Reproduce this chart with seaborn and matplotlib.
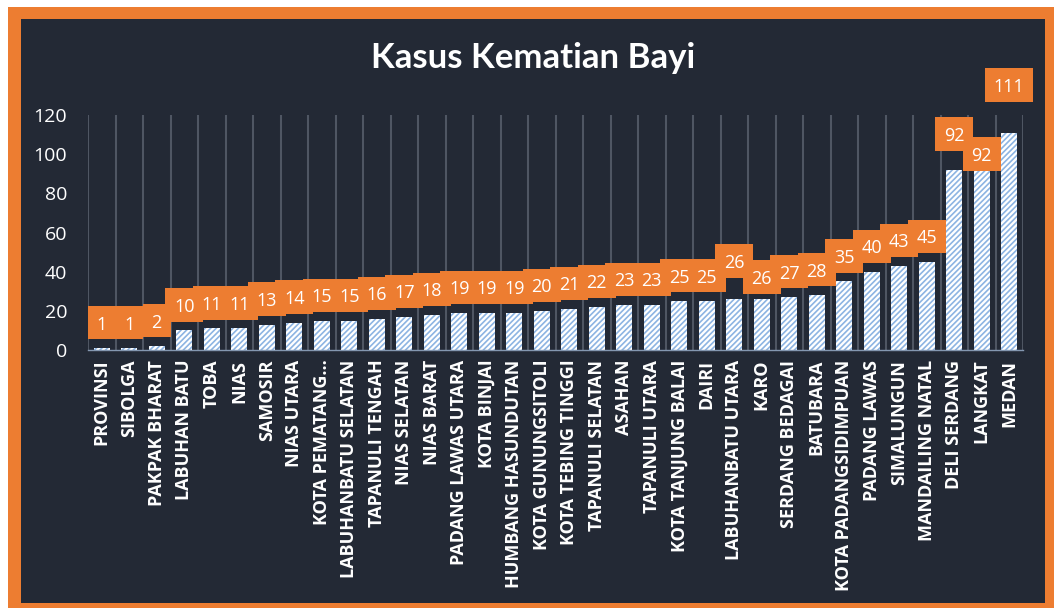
import matplotlib.pyplot as plt
import seaborn as sns
import pandas as pd
import numpy as np
from matplotlib.patches import Rectangle

plt.switch_backend("Agg")

REGIONS = [
    "PROVINSI", "SIBOLGA", "PAKPAK BHARAT", "LABUHAN BATU", "TOBA", "NIAS",
    "SAMOSIR", "NIAS UTARA", "KOTA PEMATANG…", "LABUHANBATU SELATAN",
    "TAPANULI TENGAH", "NIAS SELATAN", "NIAS BARAT", "PADANG LAWAS UTARA",
    "KOTA BINJAI", "HUMBANG HASUNDUTAN", "KOTA GUNUNGSITOLI",
    "KOTA TEBING TINGGI", "TAPANULI SELATAN", "ASAHAN", "TAPANULI UTARA",
    "KOTA TANJUNG BALAI", "DAIRI", "LABUHANBATU UTARA", "KARO",
    "SERDANG BEDAGAI", "BATUBARA", "KOTA PADANGSIDIMPUAN", "PADANG LAWAS",
    "SIMALUNGUN", "MANDAILING NATAL", "DELI SERDANG", "LANGKAT", "MEDAN",
]
DEATHS = [1, 1, 2, 10, 11, 11, 13, 14, 15, 15, 16, 17, 18, 19, 19, 19, 20,
          21, 22, 23, 23, 25, 25, 26, 26, 27, 28, 35, 40, 43, 45, 92, 92, 111]

# callouts that were dragged by hand in the original (index -> extra offset)
LABEL_NUDGE = {23: 6.5, 24: -1.7, 31: 5.3, 32: -4.9, 33: 11.3}

BG = "#232935"
ORANGE = "#ED7D31"
GRID = "#4F5663"
HATCH = "#8DB4E2"


def main():
    df = pd.DataFrame({"Wilayah": REGIONS, "Kasus": DEATHS})
    sns.set_style("dark")
    plt.rcParams["font.family"] = ["Open Sans", "DejaVu Sans"]
    plt.rcParams["hatch.linewidth"] = 1.2

    W, H = 1055, 608
    fig = plt.figure(figsize=(W / 100, H / 100), dpi=100)
    fig.patch.set_facecolor("white")
    fig.patches.append(Rectangle((8 / W, 0), (1054 - 8) / W, (H - 7) / H,
                                 transform=fig.transFigure, facecolor=ORANGE,
                                 edgecolor="none", zorder=-2))
    fig.patches.append(Rectangle((21 / W, 5 / H), (1045 - 21) / W, (603 - 19) / H,
                                 transform=fig.transFigure, facecolor=BG,
                                 edgecolor="none", zorder=-1))

    ax = fig.add_axes([88 / W, 1 - 350 / H, (1023 - 88) / W, (350 - 115) / H])
    ax.set_facecolor(BG)

    sns.barplot(data=df, x="Wilayah", y="Kasus", color="white", width=0.58,
                saturation=1, errorbar=None, ax=ax, zorder=2)
    for p in ax.patches:
        p.set_hatch("//////")
        p.set_edgecolor(HATCH)
        p.set_linewidth(0)

    ax.set_xlim(-0.5, len(REGIONS) - 0.5)
    ax.set_ylim(0, 120)
    ax.set_yticks(range(0, 121, 20))
    ax.set_xticks(np.arange(-0.5, len(REGIONS)), minor=True)
    ax.grid(False)
    ax.grid(which="minor", axis="x", color=GRID, lw=1.5, zorder=0)
    ax.set_axisbelow(True)
    ax.tick_params(axis="both", which="both", length=0)
    ax.tick_params(axis="y", colors="white", labelsize=14, pad=15)
    ax.tick_params(axis="x", colors="white", pad=7)
    ax.set_xticks(range(len(REGIONS)))
    ax.set_xticklabels(REGIONS, rotation=90, fontsize=13, fontweight="bold",
                       va="top")
    ax.set_xlabel("")
    ax.set_ylabel("")
    for s in ["top", "right", "left"]:
        ax.spines[s].set_visible(False)
    ax.spines["bottom"].set_color("#8497B0")
    ax.spines["bottom"].set_linewidth(1)

    # orange value callouts, texts kept above every box
    box_w = {1: 1.02, 2: 1.38, 3: 1.75}
    box_h = 17
    for i, v in enumerate(DEATHS):
        cy = v + 13 + LABEL_NUDGE.get(i, 0)
        w = box_w[len(str(v))]
        ax.add_patch(Rectangle((i - w / 2, cy - box_h / 2), w, box_h,
                               facecolor=ORANGE, edgecolor="none",
                               clip_on=False, zorder=3 + 0.02 * i))
        ax.text(i, cy, str(v), ha="center", va="center_baseline", color="white",
                fontsize=13, clip_on=False, zorder=5)

    fig.text(533 / W, 1 - 58 / H, "Kasus Kematian Bayi", ha="center",
             va="center", fontsize=25, fontweight="bold", color="white",
             family=["Lato", "DejaVu Sans"])

    fig.savefig("out.png", dpi=100)
    plt.close(fig)


main()
